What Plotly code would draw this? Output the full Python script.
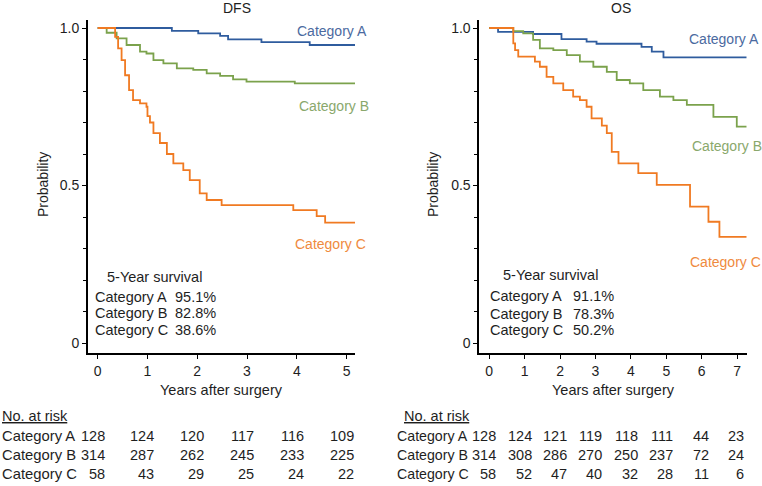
import plotly.graph_objects as go

# ---------------- data ----------------
categories = ["Category A", "Category B", "Category C"]

# DFS step curves (time in years, survival probability)
dfs_a_t = [0, 1.49, 2.02, 2.46, 2.62, 3.29, 4.26, 5.17]
dfs_a_s = [1.0, 0.991, 0.983, 0.975, 0.964, 0.955, 0.946, 0.946]
dfs_b_t = [0, 0.18, 0.38, 0.58, 0.85, 0.98, 1.12, 1.32, 1.59, 1.92, 2.19, 2.46, 2.72, 2.99, 3.96, 5.17]
dfs_b_s = [1.0, 0.985, 0.967, 0.946, 0.925, 0.919, 0.898, 0.888, 0.872, 0.867, 0.856, 0.848, 0.837, 0.830, 0.824, 0.824]
dfs_c_t = [0, 0.35, 0.41, 0.48, 0.55, 0.63, 0.71, 0.85, 0.98, 1.0, 1.05, 1.12, 1.25, 1.39, 1.52, 1.72, 1.85, 2.05, 2.19, 2.49, 3.93, 4.40, 4.57, 5.17]
dfs_c_s = [1.0, 0.972, 0.935, 0.898, 0.85, 0.803, 0.771, 0.761, 0.75, 0.72, 0.70, 0.666, 0.635, 0.600, 0.570, 0.549, 0.517, 0.475, 0.454, 0.438, 0.422, 0.403, 0.382, 0.382]

# OS step curves
os_a_t = [0, 0.25, 1.24, 2.04, 2.75, 3.03, 4.30, 4.59, 4.92, 7.27]
os_a_s = [1.0, 0.988, 0.981, 0.965, 0.957, 0.950, 0.940, 0.925, 0.907, 0.907]
os_b_t = [0, 0.68, 0.96, 1.24, 1.43, 1.81, 2.19, 2.56, 2.94, 3.32, 3.60, 3.97, 4.35, 4.82, 5.20, 5.58, 6.33, 6.99, 7.27]
os_b_s = [1.0, 0.99, 0.983, 0.962, 0.935, 0.930, 0.914, 0.893, 0.877, 0.861, 0.835, 0.824, 0.803, 0.782, 0.771, 0.756, 0.718, 0.687, 0.687]
os_c_t = [0, 0.68, 0.73, 0.82, 1.29, 1.43, 1.62, 1.81, 2.09, 2.37, 2.56, 2.75, 2.89, 3.18, 3.32, 3.46, 3.65, 4.21, 4.73, 5.67, 6.19, 6.50, 7.27]
os_c_s = [1.0, 0.951, 0.930, 0.909, 0.893, 0.877, 0.845, 0.824, 0.803, 0.782, 0.771, 0.750, 0.713, 0.690, 0.666, 0.607, 0.570, 0.539, 0.502, 0.433, 0.385, 0.337, 0.337]

dfs_5yr = ["95.1%", "82.8%", "38.6%"]
os_5yr = ["91.1%", "78.3%", "50.2%"]

dfs_risk_times = [0, 1, 2, 3, 4, 5]
dfs_risk = [[128, 124, 120, 117, 116, 109],
            [314, 287, 262, 245, 233, 225],
            [58, 43, 29, 25, 24, 22]]
os_risk_times = [0, 1, 2, 3, 4, 5, 6, 7]
os_risk = [[128, 124, 121, 119, 118, 111, 44, 23],
           [314, 308, 286, 270, 250, 237, 72, 24],
           [58, 52, 47, 40, 32, 28, 11, 6]]

# ---------------- styles ----------------
W, H = 762, 486
FONT = "Liberation Sans, Arial, sans-serif"
TXT = "#1e1e1e"
line_cols = ["#2f5c9e", "#7ba24c", "#f07a22"]
lab_cols = ["#4b6aa0", "#8aa86c", "#ef8a3e"]

def px(x):
    return x / W

def py(y):
    return 1 - y / H

fig = go.Figure()

curves_dfs = [(dfs_a_t, dfs_a_s), (dfs_b_t, dfs_b_s), (dfs_c_t, dfs_c_s)]
curves_os = [(os_a_t, os_a_s), (os_b_t, os_b_s), (os_c_t, os_c_s)]
for i, (t, s) in enumerate(curves_dfs):
    fig.add_trace(go.Scatter(x=t, y=s, mode="lines", line=dict(color=line_cols[i], width=1.8, shape="hv"),
                             xaxis="x", yaxis="y", showlegend=False, hoverinfo="skip"))
for i, (t, s) in enumerate(curves_os):
    fig.add_trace(go.Scatter(x=t, y=s, mode="lines", line=dict(color=line_cols[i], width=1.8, shape="hv"),
                             xaxis="x2", yaxis="y2", showlegend=False, hoverinfo="skip"))

ydom = [py(353), py(20)]
common_x = dict(showline=True, linecolor="black", linewidth=1.8, ticks="outside", ticklen=4, tickwidth=1.3,
                tickcolor="black", showgrid=False, zeroline=False, tickfont=dict(family=FONT, size=14, color=TXT),
                dtick=1, tick0=0)
common_y = dict(showline=True, linecolor="black", linewidth=1.8, ticks="outside", ticklen=4, tickwidth=1.3,
                tickcolor="black", showgrid=False, zeroline=False, tickfont=dict(family=FONT, size=14, color=TXT),
                tickvals=[0, 0.5, 1.0], ticktext=["0", "0.5", "1.0"], range=[-10 / 315, 323 / 315],
                minor=dict(dtick=0.1, tick0=0, ticks="outside", ticklen=3, tickcolor="black", tickwidth=1, showgrid=False))

fig.update_layout(
    width=W, height=H, margin=dict(l=0, r=0, t=0, b=0),
    paper_bgcolor="white", plot_bgcolor="white",
    xaxis=dict(domain=[px(88), px(355)], range=[-0.195, 5.17], anchor="y", **common_x),
    yaxis=dict(domain=ydom, anchor="x", **common_y),
    xaxis2=dict(domain=[px(479.3), px(746.7)], range=[-0.28, 7.27], anchor="y2", **common_x),
    yaxis2=dict(domain=ydom, anchor="x2", **common_y),
    font=dict(family=FONT, size=14, color=TXT),
)

ann = []

def txt(x, y, text, size=14, color=TXT, xanchor="left", **kw):
    d = dict(x=px(x), y=py(y), xref="paper", yref="paper", text=text, showarrow=False,
             font=dict(family=FONT, size=size, color=color), xanchor=xanchor, yanchor="middle")
    d.update(kw)
    ann.append(d)

# titles
txt(236.7, 8, "DFS", xanchor="center")
txt(620.7, 8, "OS", xanchor="center")
# axis titles
txt(221.7, 390, "Years after surgery", size=14.5, xanchor="center")
txt(613, 390, "Years after surgery", size=14.5, xanchor="center")
txt(43, 185, "Probability", size=14, xanchor="center", textangle=-90)
txt(433, 185, "Probability", size=14, xanchor="center", textangle=-90)

# curve labels
for i, (x, y) in enumerate([(295, 31), (297, 106), (293, 244)]):
    txt(x, y, categories[i], size=14, color=lab_cols[i])
for i, (x, y) in enumerate([(687, 39), (690, 146), (688, 262)]):
    txt(x, y, categories[i], size=14, color=lab_cols[i])

# 5-year survival boxes
txt(105, 277, "5-Year survival", size=14.5)
txt(500.7, 275, "5-Year survival", size=14.5)
for i, yy in enumerate([297, 313, 329.5]):
    txt(93, yy, categories[i], size=14.5)
    txt(173, yy, dfs_5yr[i], size=14.5)
for i, yy in enumerate([296, 314, 329.5]):
    txt(488.3, yy, categories[i], size=14.5)
    txt(570.7, yy, os_5yr[i], size=14.5)

# risk tables
txt(0, 416, "<u>No. at risk</u>", size=14.5)
txt(401.7, 416, "<u>No. at risk</u>", size=14.5)
row_y = [436, 455, 474]
for i, yy in enumerate(row_y):
    txt(0, yy, categories[i], size=14.8)
    txt(395, yy, categories[i], size=14.2)
    for j, t in enumerate(dfs_risk_times):
        ann.append(dict(x=t, y=py(yy), xref="x", yref="paper", text=str(dfs_risk[i][j]), showarrow=False,
                        font=dict(family=FONT, size=14.5, color=TXT), xanchor="right", yanchor="middle", xshift=9))
    for j, t in enumerate(os_risk_times):
        ann.append(dict(x=t, y=py(yy), xref="x2", yref="paper", text=str(os_risk[i][j]), showarrow=False,
                        font=dict(family=FONT, size=14.5, color=TXT), xanchor="right", yanchor="middle", xshift=9))

fig.update_layout(annotations=ann)
fig.write_html("out.html", config={"displayModeBar": False})

# remove default browser body margin so the figure sits at the page origin
with open("out.html", "r", encoding="utf-8") as f:
    html = f.read()
html = html.replace("<head>", "<head><style>html,body{margin:0;padding:0;overflow:hidden;}</style>", 1)
with open("out.html", "w", encoding="utf-8") as f:
    f.write(html)
